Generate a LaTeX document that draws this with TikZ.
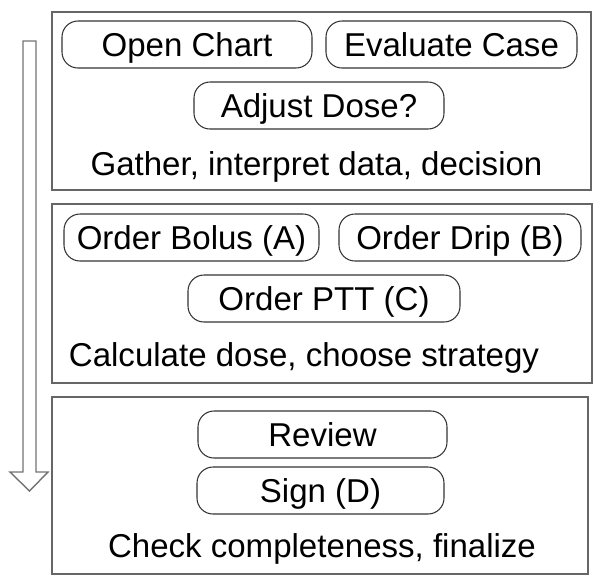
\documentclass[tikz,border=0pt]{standalone}
\usepackage{fontspec}
\setmainfont{Liberation Sans}
\usepackage{tikz}
\usetikzlibrary{positioning}
\tikzset{
  panel/.style={draw=black!60, line width=0.8pt, minimum height=3.56cm},
  pill/.style={draw=black!80, line width=0.6pt, rounded corners=0.32cm,
    minimum height=0.94cm, inner sep=0pt, align=center, text=black,
    text height=13.5pt, text depth=0pt},
  caption/.style={anchor=base, inner sep=0pt, text=black},
  flowarr/.style={draw=black!55, line width=0.8pt, fill=white, line join=miter}}

\begin{document}
\begin{tikzpicture}[font=\fontsize{18.8}{22}\selectfont]
    \useasboundingbox (0,0) rectangle (12.04,-11.68);
    % stage frames
    \node[panel, minimum width=10.78cm] (gather) at (6.43,-2.02) {};
    \node[panel, minimum width=10.80cm, minimum height=3.58cm] (calc) at (6.44,-5.87) {};
    \node[panel, minimum width=10.72cm, minimum height=3.54cm] (check) at (6.40,-9.71) {};
    % flow arrow
    \draw[flowarr] (0.46,-0.82) -- (0.72,-0.82) -- (0.72,-9.44) -- (0.96,-9.44)
      -- (0.59,-9.82) -- (0.20,-9.44) -- (0.46,-9.44) -- cycle;
    % stage 1
    \node[pill, minimum width=5.00cm] (open)   at (3.74,-0.89) {Open Chart};
    \node[pill, minimum width=5.02cm] (eval)   at (9.03,-0.89) {Evaluate Case};
    \node[pill, minimum width=5.00cm] (adjust) at (6.38,-2.11) {Adjust Dose?};
    \node[caption] (gathertxt) at (6.33,-3.50) {Gather, interpret data, decision};
    % stage 2
    \node[pill, minimum width=5.10cm] (bolus) at (3.83,-4.75) {Order Bolus (A)};
    \node[pill, minimum width=4.84cm] (drip)  at (9.20,-4.75) {Order Drip (B)};
    \node[pill, minimum width=5.44cm] (ptt)   at (6.48,-5.97) {Order PTT (C)};
    \node[caption] (calctxt) at (6.08,-7.32) {Calculate dose, choose strategy};
    % stage 3
    \node[pill, minimum width=4.98cm] (review) at (6.45,-8.69) {Review};
    \node[pill, minimum width=4.94cm] (sign)   at (6.41,-9.81) {Sign (D)};
    \node[caption] (checktxt) at (6.44,-11.14) {Check completeness, finalize};
\end{tikzpicture}
\end{document}
